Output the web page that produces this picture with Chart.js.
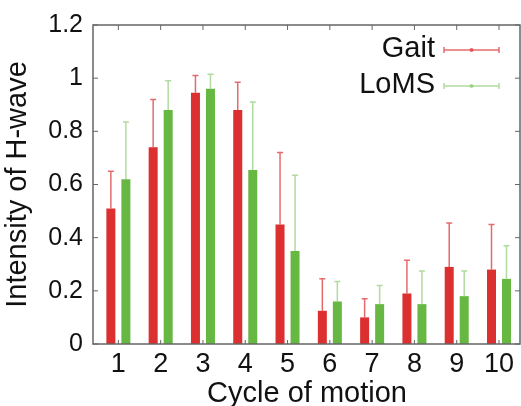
<!DOCTYPE html>
<html>
<head>
<meta charset="utf-8">
<script src="https://cdn.jsdelivr.net/npm/chart.js@4/dist/chart.umd.min.js"></script>
<style>
  html, body { margin: 0; padding: 0; background: #fff; }
  #wrap { width: 521px; height: 406px; }
</style>
</head>
<body>
<div id="wrap"><canvas id="myChart" width="521" height="406"></canvas></div>
<script>
  // data
  var cycles = [1, 2, 3, 4, 5, 6, 7, 8, 9, 10];
  var gait = [0.51, 0.74, 0.945, 0.88, 0.45, 0.125, 0.10, 0.19, 0.29, 0.28];
  var gaitErr = [0.65, 0.92, 1.01, 0.985, 0.72, 0.245, 0.17, 0.315, 0.455, 0.45];
  var loms = [0.62, 0.88, 0.96, 0.655, 0.35, 0.16, 0.15, 0.15, 0.18, 0.245];
  var lomsErr = [0.835, 0.99, 1.015, 0.91, 0.635, 0.235, 0.22, 0.275, 0.275, 0.37];
  var yTicks = [0, 0.2, 0.4, 0.6, 0.8, 1, 1.2];

  var FONT = "'Liberation Sans', Arial, sans-serif";

  function pts(vals) {
    return cycles.map(function (c, i) { return { x: c, y: vals[i] }; });
  }

  // upper error bars, drawn through the scales
  var errorBars = {
    id: 'errorBars',
    afterDatasetsDraw: function (chart) {
      var ctx = chart.ctx;
      var ys = chart.scales.y;
      chart.data.datasets.forEach(function (ds, di) {
        var meta = chart.getDatasetMeta(di);
        ctx.save();
        ctx.strokeStyle = ds.errColor;
        ctx.lineWidth = 1.5;
        meta.data.forEach(function (bar, i) {
          var yTop = ys.getPixelForValue(ds.err[i]);
          ctx.beginPath();
          ctx.moveTo(bar.x, bar.y);
          ctx.lineTo(bar.x, yTop);
          ctx.moveTo(bar.x - 3, yTop);
          ctx.lineTo(bar.x + 3, yTop);
          ctx.stroke();
        });
        ctx.restore();
      });
    }
  };

  // gnuplot style frame with inward ticks + legend
  var frame = {
    id: 'frame',
    afterDraw: function (chart) {
      var ctx = chart.ctx;
      var a = chart.chartArea;
      var xs = chart.scales.x, ys = chart.scales.y;
      ctx.save();
      ctx.strokeStyle = '#666';
      ctx.lineWidth = 1.5;
      ctx.strokeRect(a.left, a.top, a.right - 1 - a.left, a.bottom - a.top);
      ctx.lineWidth = 1;
      ctx.beginPath();
      yTicks.forEach(function (v) {
        var py = ys.getPixelForValue(v);
        ctx.moveTo(a.left, py); ctx.lineTo(a.left + 5, py);
        ctx.moveTo(a.right - 1, py); ctx.lineTo(a.right - 6, py);
      });
      cycles.forEach(function (c) {
        var px = xs.getPixelForValue(c);
        ctx.moveTo(px, a.top); ctx.lineTo(px, a.top + 5);
        ctx.moveTo(px, a.bottom); ctx.lineTo(px, a.bottom - 4);
      });
      ctx.stroke();

      // legend: text on the left, error bar sample on the right
      var rows = [57, 93];
      ctx.font = '29px ' + FONT;
      ctx.textAlign = 'right';
      ctx.textBaseline = 'alphabetic';
      chart.data.datasets.forEach(function (ds, i) {
        var by = rows[i];
        var ly = by - 7;
        ctx.fillStyle = '#111';
        ctx.fillText(ds.label, 435, by);
        ctx.strokeStyle = ds.errColor;
        ctx.lineWidth = 1.5;
        ctx.beginPath();
        ctx.moveTo(444, ly); ctx.lineTo(499, ly);
        ctx.moveTo(444, ly - 3); ctx.lineTo(444, ly + 3);
        ctx.moveTo(499, ly - 3); ctx.lineTo(499, ly + 3);
        ctx.stroke();
        ctx.fillStyle = ds.errColor;
        ctx.beginPath();
        ctx.arc(471.5, ly, 2, 0, Math.PI * 2);
        ctx.fill();
      });
      ctx.restore();
    }
  };

  var ctx = document.getElementById("myChart").getContext('2d');
  var myChart = new Chart(ctx, {
    type: 'bar',
    data: {
      datasets: [{
        label: 'Gait',
        data: pts(gait),
        err: gaitErr,
        backgroundColor: "#dc2f2f",
        errColor: "rgba(222, 70, 70, 0.8)"
      },
      {
        label: 'LoMS',
        data: pts(loms),
        err: lomsErr,
        backgroundColor: "#67b843",
        errColor: "rgba(125, 195, 95, 0.6)"
      }]
    },
    plugins: [errorBars, frame],
    options: {
      responsive: false,
      animation: false,
      events: [],
      layout: { padding: { top: 23, right: 0, left: 0, bottom: 0 } },
      categoryPercentage: 0.71,
      barPercentage: 0.6,
      plugins: { legend: { display: false }, tooltip: { enabled: false } },
      scales: {
        x: {
          type: 'linear',
          offset: false,
          min: 0.4,
          max: 10.52,
          afterFit: function (s) { s.height = 62; },
          grid: { display: false, drawTicks: false, offset: false },
          border: { display: false },
          ticks: {
            stepSize: 1,
            includeBounds: false,
            autoSkip: false,
            maxRotation: 0,
            padding: 4,
            color: '#111',
            font: { family: FONT, size: 27 }
          },
          title: {
            display: true,
            text: 'Cycle of motion',
            color: '#111',
            font: { family: FONT, size: 29, lineHeight: 1 },
            padding: { top: 0, bottom: -2.5 }
          }
        },
        y: {
          min: 0,
          max: 1.2,
          afterFit: function (s) { s.width = 93; },
          afterBuildTicks: function (s) { s.ticks = yTicks.map(function (v) { return { value: v }; }); },
          grid: { display: false, drawTicks: false },
          border: { display: false },
          ticks: {
            padding: 10,
            color: '#111',
            font: { family: FONT, size: 25 },
            callback: function (v) { return String(+v.toFixed(1)); }
          },
          title: {
            display: true,
            text: 'Intensity of H-wave',
            color: '#111',
            font: { family: FONT, size: 29, lineHeight: 1 },
            padding: { top: 3, bottom: 0 }
          }
        }
      }
    }
  });
</script>
</body>
</html>
